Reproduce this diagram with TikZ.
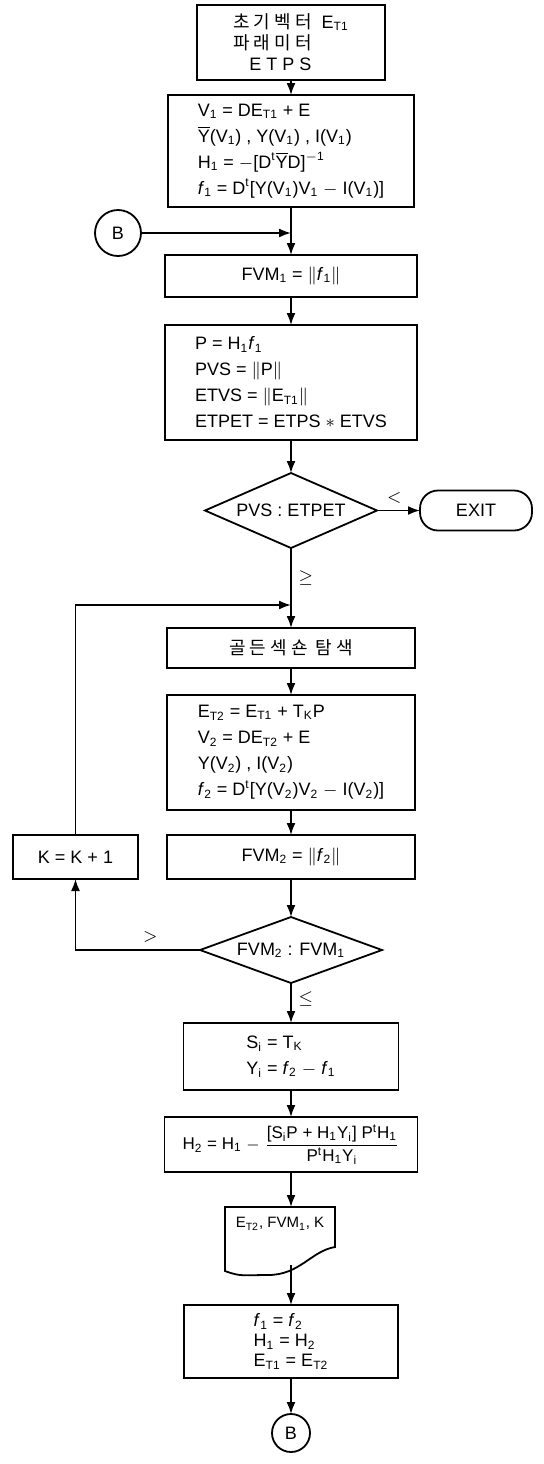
\documentclass[tikz,border=0pt]{standalone}
\usepackage{fontspec}
\usepackage{amsmath}
\setmainfont{Liberation Sans}
\newfontfamily\kor{Noto Sans CJK KR}
\usetikzlibrary{shapes.geometric, arrows.meta, positioning}

\newcommand{\sbs}[1]{\textsubscript{#1}}
\newcommand{\sps}[1]{\textsuperscript{#1}}
\newcommand{\Ybar}{$\overline{\mbox{Y}}$}

\begin{document}
\begin{tikzpicture}[
    x=0.5pt, y=-0.5pt,
    font=\fontsize{9}{13}\selectfont,
    line width=0.9pt,
    proc/.style={draw, rectangle, align=left, inner xsep=5pt, inner ysep=2pt, outer sep=0pt},
    dec/.style={draw, diamond, aspect=2.4, inner sep=0pt, outer sep=0pt},
    term/.style={draw, rectangle, rounded corners=9pt, minimum width=56pt, minimum height=20pt, outer sep=0pt},
    conn/.style={draw, circle, inner sep=0pt, outer sep=0pt},
    arrow/.style={-{Latex[length=6pt, width=4.5pt]}}
]
\useasboundingbox (0,0) rectangle (544,1464);

% Nodos
\node (init) [proc, minimum width=94pt, minimum height=37.5pt, font=\fontsize{9}{10.5}\selectfont] at (291,42.5) {{\kor 초 기 벡 터} \ E\sbs{T1}\\ {\kor 파 래 미 터}\\ \hspace{8pt}E T P S};
\node (calc1) [proc, below=7.5pt of init, minimum width=123pt, minimum height=56pt] {V\sbs{1} = DE\sbs{T1} + E\\ \Ybar(V\sbs{1}) , Y(V\sbs{1}) , I(V\sbs{1})\\ H\sbs{1} = $-$[D\sps{t}\Ybar D]\sps{$-$1}\\ \textit{f}\sbs{1} = D\sps{t}[Y(V\sbs{1})V\sbs{1} $-$ I(V\sbs{1})]};
\node (bin) [conn, minimum size=23pt] at (118,233) {B};
\node (fvm1) [proc, below=24pt of calc1, minimum width=126pt, minimum height=21pt, align=center] {FVM\sbs{1} = $\|$\textit{f}\sbs{1}$\|$};
\node (calc2) [proc, below=14pt of fvm1, minimum width=126pt, minimum height=57.5pt] {P = H\sbs{1}\textit{f}\sbs{1}\\ PVS = $\|$P$\|$\\ ETVS = $\|$E\sbs{T1}$\|$\\ ETPET = ETPS $*$ ETVS};
\node (dec1) [dec, below=16.5pt of calc2, minimum width=86pt, minimum height=37.5pt] {PVS : ETPET};
\node (exit) [term, right=21.5pt of dec1] {EXIT};
\node (gold) [proc, below=40pt of dec1, minimum width=124pt, minimum height=20pt, align=center] {\kor 골 든 섹 숀 \ 탐 색};
\node (calc3) [proc, below=13.5pt of gold, minimum width=124pt, minimum height=57.5pt] {E\sbs{T2} = E\sbs{T1} + T\sbs{K}P\\ V\sbs{2} = DE\sbs{T2} + E\\ Y(V\sbs{2}) , I(V\sbs{2})\\ \textit{f}\sbs{2} = D\sps{t}[Y(V\sbs{2})V\sbs{2} $-$ I(V\sbs{2})]};
\node (fvm2) [proc, below=12.5pt of calc3, minimum width=124pt, minimum height=22pt, align=center] {FVM\sbs{2} = $\|$\textit{f}\sbs{2}$\|$};
\node (kbox) [proc, left=14.5pt of fvm2, minimum width=62.5pt, minimum height=22pt, align=center] {K = K + 1};
\node (dec2) [dec, aspect=2.7, below=19pt of fvm2, minimum width=91pt, minimum height=33pt] {FVM\sbs{2} : FVM\sbs{1}};
\node (upd) [proc, below=20pt of dec2, minimum width=107.5pt, minimum height=33.5pt] {S\sbs{i} = T\sbs{K}\\ Y\sbs{i} = \textit{f}\sbs{2} $-$ \textit{f}\sbs{1}};
\node (hess) [proc, below=13.5pt of upd, minimum width=126.5pt, minimum height=27.5pt, font=\fontsize{8.5}{10}\selectfont] {H\sbs{2} = H\sbs{1} $-$ $\dfrac{\mbox{[S\sbs{i}P + H\sbs{1}Y\sbs{i}] P\sps{t}H\sbs{1}}}{\mbox{P\sps{t}H\sbs{1}Y\sbs{i}}}$};
\node (out) [below=17.5pt of hess, xshift=-5.5pt, minimum width=55pt, minimum height=17pt, outer sep=0pt, font=\fontsize{7.5}{9}\selectfont] {E\sbs{T2}, FVM\sbs{1}, K};
\coordinate (outax) at (out.south -| hess.south);
\coordinate (outb) at ([yshift=-12pt]out.south -| hess.south);
\node (last) [proc, below=32pt of outax, minimum width=107pt, minimum height=36.5pt, font=\fontsize{9}{10}\selectfont] {\textit{f}\sbs{1} = \textit{f}\sbs{2}\\ H\sbs{1} = H\sbs{2}\\ E\sbs{T1} = E\sbs{T2}};
\node (bout) [conn, below=18pt of last, minimum size=19pt] {B};

\coordinate (jb) at (fvm1.north |- bin.east);
\coordinate [above=11.5pt of gold] (jl);

% Documento
\draw (out.north west) -- (out.north east) -- ([yshift=-3pt]out.south east)
  .. controls +(-12pt,-2pt) and +(16pt,0pt) .. ([yshift=-17pt, xshift=-6pt]out.south)
  .. controls +(-12pt,0pt) and +(8pt,-3pt) .. ([yshift=-15pt]out.south west) -- cycle;

% Flechas
\draw [arrow] (init) -- (calc1);
\draw [arrow] (bin) -- (jb);
\draw [arrow] (calc1) -- (fvm1);
\draw [arrow] (fvm1) -- (calc2);
\draw [arrow] (calc2) -- (dec1);
\draw [arrow] (dec1) -- node[above, pos=0.4] {$<$} (exit);
\draw [arrow] (dec1) -- node[right, pos=0.38] {$\geq$} (gold);
\draw [arrow] (kbox) |- (jl);
\draw [arrow] (gold) -- (calc3);
\draw [arrow] (calc3) -- (fvm2);
\draw [arrow] (fvm2) -- (dec2);
\draw [arrow] (dec2) -| node[above, pos=0.2] {$>$} (kbox);
\draw [arrow] (dec2) -- node[right, pos=0.4] {$\leq$} (upd);
\draw [arrow] (upd) -- (hess);
\draw [arrow] (hess.south) -- (hess.south |- out.north);
\draw [arrow] (outb) -- (last);
\draw [arrow] (last) -- (bout);

\end{tikzpicture}
\end{document}
